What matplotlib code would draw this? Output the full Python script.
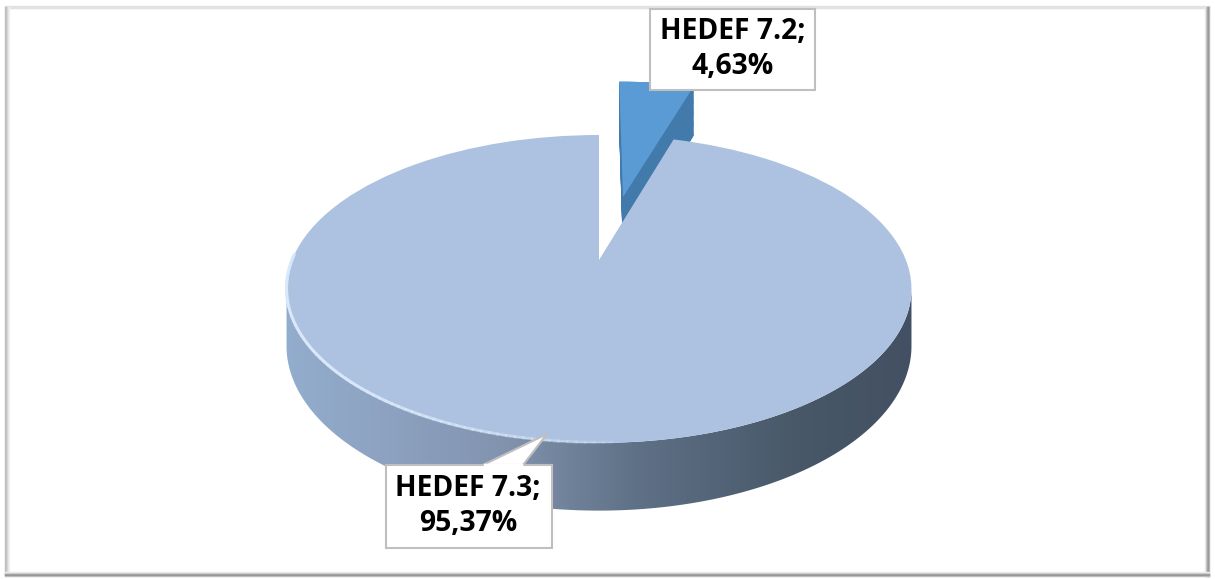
import numpy as np
import matplotlib
matplotlib.use('Agg')
import matplotlib.pyplot as plt
from matplotlib.colors import LinearSegmentedColormap
from matplotlib.patches import Polygon, Rectangle
from matplotlib.transforms import Transform

labels = ['HEDEF 7.2', 'HEDEF 7.3']
shares = [4.63, 95.37]
share_text = ['4,63%', '95,37%']

# pixel geometry of the tilted disc
APEX_X, APEX_Y = 599, 260
RX, RY = 306.9, 148.5
TILT = 0.188
DROP = 55

top_colors = ['#5B9BD5', '#ADC2E0']
dark_blue = '#427AAC'


class Perspective(Transform):
    # flat pie plane -> screen pixels, z=-1 is the bottom of the disc
    input_dims = 2
    output_dims = 2

    def __init__(self, z=0):
        super().__init__()
        self.z = z

    def transform_non_affine(self, xy):
        xy = np.asarray(xy, dtype=float)
        w = 1 + TILT * xy[:, 1]
        return np.c_[APEX_X + RX * xy[:, 0] / w,
                     APEX_Y - (RY * xy[:, 1] + DROP * self.z) / w]


plt.rcParams['font.family'] = ['Open Sans', 'DejaVu Sans']

fig = plt.figure(figsize=(12.15, 5.79), dpi=100, facecolor='white')
ax = fig.add_axes([0, 0, 1, 1])


def draw_pie(colors, z, zorder):
    wedges, _ = ax.pie(shares, startangle=90, counterclock=False,
                       colors=colors, radius=1, wedgeprops={'linewidth': 0, 'zorder': zorder})
    # the small slice is pulled out of the disc
    wedges[0].set_center((0.085, 0.461))
    wedges[0].set_radius(1.09)
    for w in wedges:
        w.set_transform(Perspective(z) + ax.transData)
    return wedges


# side of the exploded slice
for i, z in enumerate(np.linspace(-1.15, 0, 46)):
    draw_pie([dark_blue, 'none'], z, 1 + i * 0.001)

# outer wall of the big slice
t = np.radians(np.linspace(191, 349, 200))
rim = np.c_[np.cos(t), np.sin(t)]
wall_pts = np.vstack([Perspective(0).transform(rim), Perspective(-1).transform(rim)[::-1]])
wall_cmap = LinearSegmentedColormap.from_list('wall', [
    (0.0, '#93ADCE'), (0.18, '#8CA1BF'), (0.36, '#8192AD'), (0.46, '#6F8199'),
    (0.56, '#5F7186'), (0.68, '#54657A'), (0.82, '#485868'), (1.0, '#435063')])
im = ax.imshow(np.linspace(0, 1, 256).reshape(1, -1), cmap=wall_cmap, aspect='auto',
               extent=(284, 913, 530, 270), zorder=2)
wall_poly = Polygon(wall_pts, closed=True, transform=ax.transData, facecolor='none', edgecolor='none')
ax.add_patch(wall_poly)
im.set_clip_path(wall_poly)

# top surface
draw_pie(top_colors, 0, 3)

# light rim on the front left
t2 = np.radians(np.linspace(178, 272, 70))
rim2 = Perspective(0).transform(np.c_[np.cos(t2), np.sin(t2)])
for k in range(len(rim2) - 1):
    ax.plot(rim2[k:k + 2, 0], rim2[k:k + 2, 1] - 0.5, color='#D8E8FA', lw=2.2,
            alpha=min(1, 1.5 * (1 - k / 70) ** 0.6), zorder=4, solid_capstyle='round')

# data labels with callout
box_color = '#BFBFBF'
ax.add_patch(Polygon([(483, 465), (547, 434), (523, 465)], closed=True, facecolor='white',
                     edgecolor=box_color, lw=1.5, zorder=5))
ax.add_patch(Rectangle((386, 465), 166, 83, facecolor='white', edgecolor=box_color, lw=1.5, zorder=6))
ax.plot([485, 521], [465, 465], color='white', lw=2.5, zorder=7)
ax.add_patch(Rectangle((650, 9), 165, 81, facecolor='white', edgecolor=box_color, lw=1.5, zorder=6))

ax.text(732.5, 49, labels[0] + ';\n' + share_text[0], ha='center', va='center', fontsize=20.3,
        fontweight='bold', color='black', linespacing=1.27, zorder=8)
ax.text(468, 506, labels[1] + ';\n' + share_text[1], ha='center', va='center', fontsize=20.3,
        fontweight='bold', color='black', linespacing=1.27, zorder=8)

# chart frame with its soft shadow
ax.plot([6, 1208], [7, 7], color='#E2E2E2', lw=2.5, zorder=1)
for x, c in zip([5, 6, 7, 8, 9], ['#BDBDBD', '#C4C4C4', '#D2D2D2', '#E4E4E4', '#F3F3F3']):
    ax.plot([x, x], [7, 575], color=c, lw=1, zorder=1)
for x, c in zip([1205, 1206, 1207, 1208, 1209], ['#EDEDED', '#D0D0D0', '#ABABAB', '#949494', '#B5B5B5']):
    ax.plot([x, x], [7, 576], color=c, lw=1, zorder=1)
for y, c in zip([572, 573, 574, 575, 576], ['#F0F0F0', '#D6D6D6', '#A8A8A8', '#8E8E8E', '#BDBDBD']):
    ax.plot([5, 1209], [y, y], color=c, lw=1, zorder=1)

ax.set_aspect('auto')
ax.set_xlim(0, 1215)
ax.set_ylim(579, 0)
ax.axis('off')

fig.savefig('out.png', dpi=100)
